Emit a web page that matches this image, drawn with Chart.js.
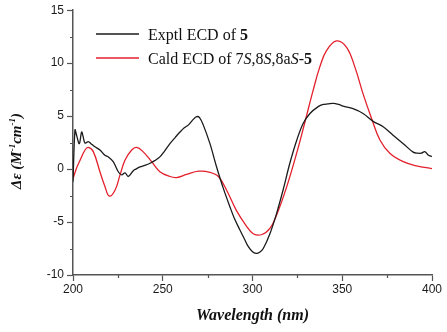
<!DOCTYPE html>
<html><head><meta charset="utf-8">
<script src="https://cdn.jsdelivr.net/npm/chart.js@4/dist/chart.umd.min.js"></script>
<style>html,body{margin:0;padding:0;background:#fff;overflow:hidden}</style>
</head><body><canvas id="c" width="447" height="332"></canvas>
<script>
// ---- data ----
const wavelengthExptl = [200,201.1,202,203.5,204.8,205.6,206.7,208.5,210,212.2,215,217.8,219.7,222.4,225.2,227.1,229,230.8,233.6,235,237.3,240,242.9,245.5,248.4,251,254,257,259.6,262,264.2,266.5,268.9,270.5,272.6,276.3,280,283.7,287.4,290,293,295.5,297.6,300,302,304,306,309.7,313.4,317,320.8,324.6,328.2,332,336.6,339.4,342,345,348,350.5,356,361.6,367.2,372.8,378.3,384,389.5,392,394,396,398,400];
const ecdExptl = [-1.2,3.7,3.2,2.4,3.5,3.1,2.45,2.6,2.4,2.1,1.8,1.3,1.15,0.7,-0.25,-0.55,-0.35,-0.7,-0.15,0.0,0.2,0.35,0.55,0.8,1.15,1.7,2.4,3.0,3.5,3.9,4.15,4.6,4.95,4.85,4.15,2.4,0.2,-1.8,-3.55,-4.7,-5.75,-6.6,-7.3,-7.8,-7.95,-7.85,-7.5,-6.1,-4.2,-2.0,0.55,2.7,4.3,5.25,5.9,6.1,6.15,6.2,6.1,5.95,5.7,5.25,4.5,4.0,3.2,2.4,1.6,1.5,1.5,1.65,1.3,1.2];
const wavelengthCald = [200,202,204,206.7,208.5,211.3,215,217.8,220.2,223.4,226.2,229,232.7,235.5,239,243.8,248.4,254,257.7,263.3,270,276.3,281,285.6,291,296.7,300.4,305,309.7,313.4,319,324.6,329,333.8,337.5,341.3,346.8,352.4,357,361.6,366.3,371,376.5,384,391.4,400];
const ecdCald = [-0.9,0.1,0.85,1.8,2.05,1.65,-0.25,-1.65,-2.55,-2.0,-0.55,0.85,1.8,2.05,1.65,0.7,-0.25,-0.7,-0.8,-0.5,-0.2,-0.3,-0.7,-2.0,-3.9,-5.4,-6.1,-6.2,-5.6,-4.35,-1.7,1.5,4.3,7.45,9.65,11.2,12.1,11.5,9.65,7.1,4.8,2.75,1.5,0.7,0.3,0.05];
const xTickValues = [200,250,300,350,400];
const xMinorTickValues = [225,275,325,375];
const yTickValues = [-10,-5,0,5,10,15];
const yMinorTickValues = [-7.5,-2.5,2.5,7.5,12.5];
const seriesNames = ['Exptl ECD of 5','Cald ECD of 7S,8S,8aS-5'];
const seriesColors = ['#1b1b1b','#e3202c'];

const toPts = (xs, ys) => xs.map((x, i) => ({x: x, y: ys[i]}));

const axisColor = '#555555';
const serif = '"Liberation Serif", "Times New Roman", serif';

function drawRich(ctx, parts, x, y) {
  let cx = x;
  for (const p of parts) {
    ctx.font = p.f;
    ctx.fillText(p.t, cx, y + (p.dy || 0));
    cx += ctx.measureText(p.t).width;
  }
  return cx - x;
}
function richWidth(ctx, parts) {
  let w = 0;
  for (const p of parts) { ctx.font = p.f; w += ctx.measureText(p.t).width; }
  return w;
}

const annotPlugin = {
  id: 'annot',
  afterDraw(chart) {
    const ctx = chart.ctx;
    const xs = chart.scales.x, ys = chart.scales.y;
    ctx.save();
    // minor ticks (shorter), positioned through the library's scales
    ctx.strokeStyle = axisColor;
    ctx.lineWidth = 1.2;
    ctx.beginPath();
    const xAxisY = xs.top;
    xMinorTickValues.forEach(v => {
      const px = Math.round(xs.getPixelForValue(v)) + 0.5;
      ctx.moveTo(px, xAxisY); ctx.lineTo(px, xAxisY + 3);
    });
    const yAxisX = ys.right;
    yMinorTickValues.forEach(v => {
      const py = Math.round(ys.getPixelForValue(v)) + 0.5;
      ctx.moveTo(yAxisX, py); ctx.lineTo(yAxisX - 3, py);
    });
    ctx.stroke();
    // legend
    const reg = 'normal 16px ' + serif;
    const bold = 'bold 16px ' + serif;
    const ital = 'italic 16px ' + serif;
    const rows = [
      [{t: 'Exptl ECD of ', f: reg}, {t: '5', f: bold}],
      [{t: 'Cald ECD of 7', f: reg}, {t: 'S', f: ital}, {t: ',8', f: reg}, {t: 'S', f: ital}, {t: ',8a', f: reg}, {t: 'S', f: ital}, {t: '-', f: reg}, {t: '5', f: bold}]
    ];
    const lineYs = [34, 58];
    ctx.textBaseline = 'alphabetic';
    rows.forEach((parts, i) => {
      ctx.strokeStyle = seriesColors[i];
      ctx.lineWidth = 1.4;
      ctx.beginPath();
      ctx.moveTo(96, lineYs[i]);
      ctx.lineTo(139, lineYs[i]);
      ctx.stroke();
      ctx.fillStyle = '#111';
      drawRich(ctx, parts, 148, lineYs[i] + 5.5);
    });
    // y-axis title
    const yf = 'italic bold 15px ' + serif;
    const ysf = 'italic bold 9px ' + serif;
    const yParts = [
      {t: 'Δε (', f: yf}, {t: 'M', f: yf}, {t: '-1', f: ysf, dy: -6},
      {t: 'cm', f: yf}, {t: '-1', f: ysf, dy: -6}, {t: ')', f: yf}
    ];
    ctx.translate(16, 151);
    ctx.rotate(-Math.PI / 2);
    const w = richWidth(ctx, yParts);
    drawRich(ctx, yParts, -w / 2, 5);
    ctx.restore();
  }
};

new Chart(document.getElementById('c'), {
  type: 'line',
  data: {
    datasets: [
      {label: seriesNames[0], data: toPts(wavelengthExptl, ecdExptl), borderColor: seriesColors[0], borderWidth: 1.3, pointRadius: 0, tension: 0.35, fill: false},
      {label: seriesNames[1], data: toPts(wavelengthCald, ecdCald), borderColor: seriesColors[1], borderWidth: 1.3, pointRadius: 0, tension: 0.4, fill: false}
    ]
  },
  options: {
    responsive: false,
    devicePixelRatio: 1,
    animation: false,
    layout: {padding: {top: 10, right: 15, left: 0, bottom: 0}},
    plugins: {legend: {display: false}, tooltip: {enabled: false}},
    scales: {
      x: {
        type: 'linear', min: 200, max: 400,
        afterFit: s => { s.height = 57; },
        border: {color: axisColor, width: 1.5},
        grid: {drawOnChartArea: false, drawTicks: true, tickLength: 6, tickColor: axisColor, tickWidth: 1.2},
        ticks: {stepSize: 50, autoSkip: false, maxRotation: 0, padding: 1, color: '#1a1a1a',
          font: {family: '"Liberation Sans", Arial, sans-serif', size: 12}},
        title: {display: true, text: 'Wavelength (nm)', color: '#111',
          font: {family: serif, size: 16, style: 'italic', weight: 'bold'}, padding: {top: 0, bottom: 7}}
      },
      y: {
        type: 'linear', min: -10, max: 15,
        afterFit: s => { s.width = 73; },
        border: {color: axisColor, width: 1.5},
        grid: {drawOnChartArea: false, drawTicks: true, tickLength: 6, tickColor: axisColor, tickWidth: 1.2},
        ticks: {stepSize: 5, autoSkip: false, padding: 3, color: '#1a1a1a',
          font: {family: '"Liberation Sans", Arial, sans-serif', size: 12}}
      }
    }
  },
  plugins: [annotPlugin]
});
</script>
</body></html>
